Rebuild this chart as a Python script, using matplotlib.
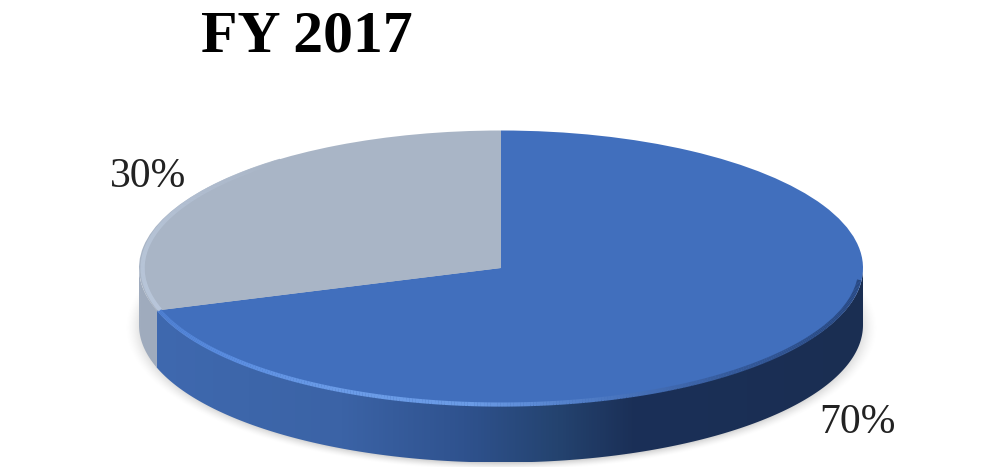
import numpy as np
import matplotlib
matplotlib.use("Agg")
import matplotlib.pyplot as plt
from matplotlib.collections import LineCollection
from matplotlib.colors import LinearSegmentedColormap
from matplotlib.patches import Polygon

title = "FY 2017"
shares = [70, 30]
slice_colors = ["#416fbd", "#a9b5c6"]

W, H = 984, 467
cx, cy = 501, 268      # centre of the pie top, px
rx, ry = 362, 137.5    # radii of the pie top, px
depth = 57 / ry        # thickness of the disc, unit-circle units

fig = plt.figure(figsize=(W / 100, H / 100), dpi=100, facecolor="white")
ax = fig.add_axes([0, 0, 1, 1])
xlim = (-cx / rx, (W - cx) / rx)
ylim = ((cy - H) / ry, cy / ry)

# soft shadow behind the disc
gx, gy = np.meshgrid(np.linspace(-1.12, 1.12, 500), np.linspace(-1.75, 0.2, 300))
dist = np.sqrt(gx ** 2 + (gy + depth + 0.02) ** 2)
shadow = np.zeros(gx.shape + (4,))
shadow[..., :3] = 0.6
shadow[..., 3] = np.clip((1.04 - dist) / 0.06, 0, 1) ** 1.5 * 0.5
ax.imshow(shadow, extent=[-1.12, 1.12, -1.75, 0.2], origin="lower", aspect="auto",
          zorder=1, interpolation="bilinear")

# flat top of the disc, 1st slice runs clockwise from 12 o'clock
wedges, _ = ax.pie(shares, colors=slice_colors, startangle=90, counterclock=False,
                   radius=1, center=(0, 0), wedgeprops=dict(linewidth=0, zorder=4))
ax.set_aspect("auto")

split = 90 - 360 * shares[0] / sum(shares) + 360   # blue/grey border on the rim, degrees


def rim_polygon(a0, a1):
    t = np.radians(np.linspace(a0, a1, 200))
    top = np.column_stack([np.cos(t), np.sin(t)])
    bottom = np.column_stack([np.cos(t[::-1]), np.sin(t[::-1]) - depth])
    return np.vstack([top, bottom])


def rim_fill(a0, a1, cmap):
    # horizontal gradient clipped to the visible rim
    poly = Polygon(rim_polygon(a0, a1), closed=True, transform=ax.transData, facecolor="none", edgecolor="none")
    ax.add_patch(poly)
    im = ax.imshow(np.linspace(0, 1, 512)[None, :], extent=[-1, 1, -1 - depth, 0], cmap=cmap,
                   aspect="auto", zorder=3, origin="lower")
    im.set_clip_path(poly)
    return im


blue_rim = LinearSegmentedColormap.from_list("blue_rim", [
    (0.0, "#3f69b0"), (0.15, "#3d66aa"), (0.28, "#3b63a6"), (0.45, "#2f528e"),
    (0.58, "#24436f"), (0.68, "#1b3058"), (1.0, "#1a2e52")])

rim_fill(split, 360, blue_rim)
rim_fill(180, split, LinearSegmentedColormap.from_list("grey_rim", ["#a0acbe", "#8f9bb0"]))


def bevel(a0, a1, colors, r=0.99, lw=3.0):
    # light or dark line following the top edge, colour changes along the arc
    t = np.radians(np.linspace(a0, a1, 300))
    pts = np.column_stack([r * np.cos(t), r * np.sin(t)])
    segs = np.stack([pts[:-1], pts[1:]], axis=1)
    cmap = LinearSegmentedColormap.from_list("bevel", colors)
    lc = LineCollection(segs, cmap=cmap, linewidths=lw, zorder=5, capstyle="butt")
    lc.set_array(np.linspace(0, 1, len(segs)))
    ax.add_collection(lc)


bevel(split, 355, ["#4f80d2", "#5a8de0", "#6b9ce8", "#6a9be6", "#4a76c0", "#34599a", "#2b4c86", "#284780"], r=0.993, lw=3)
bevel(split - 70, split, ["#a9b5c6", "#b4c1d4", "#bccadd", "#bdcbe0"], r=0.99, lw=3)

ax.set_xlim(*xlim)
ax.set_ylim(*ylim)
ax.axis("off")

fig.text(307 / W, 1 - 37 / H, title, family="Liberation Serif", weight="bold", fontsize=43,
         ha="center", va="center", color="black")
fig.text(148 / W, 1 - 177 / H, f"{shares[1]}%", family="Liberation Serif", fontsize=30,
         ha="center", va="center", color="#222222")
fig.text(857 / W, 1 - 423 / H, f"{shares[0]}%", family="Liberation Serif", fontsize=30,
         ha="center", va="center", color="#222222")

fig.savefig("out.png", dpi=100)
